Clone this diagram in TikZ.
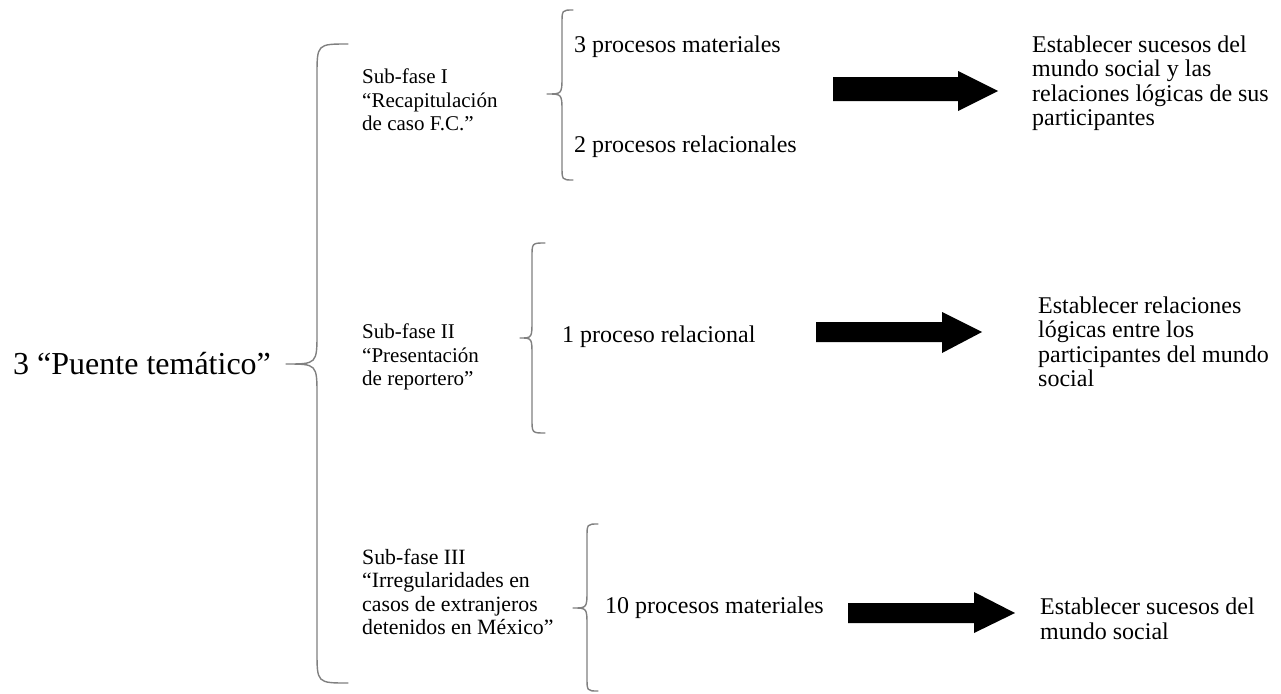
\documentclass[tikz,border=0pt]{standalone}
\usepackage{fontspec}
\setmainfont{Liberation Serif}
\begin{document}
\begin{tikzpicture}[x=1pt,y=-1pt,
  brc/.style={draw=black!50,line width=1.4pt,line cap=round,line join=round},
  blk/.style={fill=black},
  sub/.style={anchor=west,align=left,inner sep=0pt,font=\fontsize{21}{23.5}\selectfont},
  body/.style={anchor=west,align=left,inner sep=0pt,font=\fontsize{24}{24.5}\selectfont},
  big/.style={anchor=west,inner sep=0pt,font=\fontsize{32}{36}\selectfont}]
\useasboundingbox (0,0) rectangle (1281,693);
% main brace
\draw[brc] (348,44) .. controls (317,44) .. (317,76) -- (317,332) .. controls (317,364) .. (286,364) .. controls (317,364) .. (317,396) -- (317,651) .. controls (317,683) .. (348,683);
\node[big] (pt) at (13,364) {3 “Puente temático”};
% sub-fases
\node[sub] (s1) at (362,100) {Sub-fase I\\“Recapitulación\\de caso F.C.”};
\node[sub] (s2) at (362,357) {Sub-fase II\\“Presentación\\de reportero”};
\node[sub,font=\fontsize{21.8}{23.5}\selectfont] (s3) at (362,592) {Sub-fase III\\“Irregularidades en\\casos de extranjeros\\detenidos en México”};
% small braces
\draw[brc] (573,10) .. controls (562,10) .. (562,24) -- (562,76) .. controls (562,94) .. (547,94) .. controls (562,94) .. (562,112) -- (562,166) .. controls (562,180) .. (573,180);
\draw[brc] (545,243) .. controls (532,243) .. (532,257) -- (532,320) .. controls (532,338) .. (520,338) .. controls (532,338) .. (532,356) -- (532,419) .. controls (532,433) .. (545,433);
\draw[brc] (598,524) .. controls (587,524) .. (587,538) -- (587,590) .. controls (587,608) .. (573,608) .. controls (587,608) .. (587,626) -- (587,677) .. controls (587,691) .. (598,691);
% processes
\node[body] (p1a) at (574,47) {3 procesos materiales};
\node[body] (p1b) at (574,147) {2 procesos relacionales};
\node[body] (p2) at (562,337) {1 proceso relacional};
\node[body] (p3) at (605,608) {10 procesos materiales};
% arrows
\fill[blk] (833,77) -- (958,77) -- (958,71) -- (998,91) -- (958,111) -- (958,101) -- (833,101) -- cycle;
\fill[blk] (816,322) -- (942,322) -- (942,312) -- (982,332) -- (942,353) -- (942,342) -- (816,342) -- cycle;
\fill[blk] (848,603) -- (974,603) -- (974,592) -- (1015,613) -- (974,633) -- (974,623) -- (848,623) -- cycle;
% results
\node[body] (r1) at (1032,83) {Establecer sucesos del\\mundo social y las\\relaciones lógicas de sus\\participantes};
\node[body] (r2) at (1038,342) {Establecer relaciones\\lógicas entre los\\participantes del mundo\\social};
\node[body] (r3) at (1040,619) {Establecer sucesos del\\mundo social};
\end{tikzpicture}
\end{document}
